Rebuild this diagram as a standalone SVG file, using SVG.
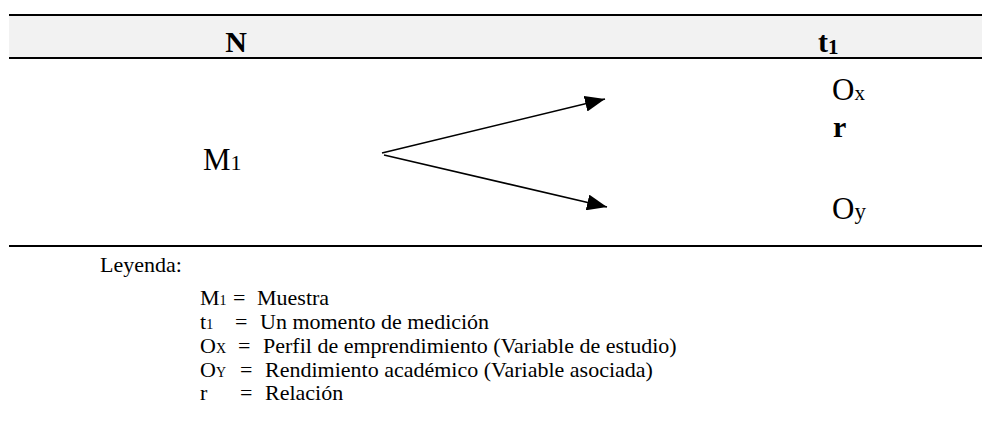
<svg xmlns="http://www.w3.org/2000/svg" width="982" height="426" viewBox="0 0 982 426">
<style>
.t{font-family:"Liberation Serif","Times New Roman",serif;fill:#000}
.big{font-size:31px}
.b{font-weight:bold}
.leg{font-size:22px}
.sub{font-size:14px}
.rule{stroke:#000;stroke-width:2.2}
.conn{stroke:#000;stroke-width:1.6;fill:none}
</style>
<defs>
<marker id="ah" viewBox="0 0 20 16" refX="20" refY="8" markerWidth="20" markerHeight="16" markerUnits="userSpaceOnUse" orient="auto">
<path d="M0,0 L20,8 L0,16 Z" fill="#000"/>
</marker>
</defs>
<rect x="9" y="15" width="973" height="43" fill="#f2f2f2"/>
<line class="rule" x1="9" y1="15" x2="982" y2="15"/>
<line class="rule" x1="9" y1="58" x2="982" y2="58"/>
<line class="rule" x1="9" y1="246" x2="982" y2="246"/>
<g id="header-N"><text class="t b" font-size="30" x="236" y="52" text-anchor="middle">N</text></g>
<g id="header-t1"><text class="t b" font-size="30" x="818" y="52">t<tspan font-size="21" dy="2">1</tspan></text></g>
<g id="node-M1"><text class="t big" x="203" y="170">M<tspan font-size="22">1</tspan></text></g>
<g id="node-Ox"><text class="t big" x="832" y="100">O<tspan font-size="21">x</tspan></text></g>
<g id="node-r"><text class="t b" font-size="30" x="833" y="137">r</text></g>
<g id="node-Oy"><text class="t big" x="832" y="219">O<tspan font-size="23">y</tspan></text></g>
<g id="connectors">
<line class="conn" x1="382" y1="153" x2="605" y2="99" marker-end="url(#ah)"/>
<line class="conn" x1="384" y1="155" x2="607" y2="207" marker-end="url(#ah)"/>
</g>
<g id="legend">
<text class="t leg" x="100" y="272">Leyenda:</text>
<text class="t leg" x="200" y="305">M<tspan class="sub">1</tspan></text>
<text class="t leg" x="233" y="305">=</text>
<text class="t leg" x="257" y="305">Muestra</text>
<text class="t leg" x="200" y="329">t<tspan class="sub">1</tspan></text>
<text class="t leg" x="235" y="329">=</text>
<text class="t leg" x="260" y="329">Un momento de medición</text>
<text class="t leg" x="200" y="353">O<tspan class="sub">X</tspan></text>
<text class="t leg" x="238" y="353">=</text>
<text class="t leg" x="263" y="353">Perfil de emprendimiento (Variable de estudio)</text>
<text class="t leg" x="200" y="377">O<tspan class="sub">Y</tspan></text>
<text class="t leg" x="240" y="377">=</text>
<text class="t leg" x="265" y="377">Rendimiento académico (Variable asociada)</text>
<text class="t leg" x="200" y="400">r</text>
<text class="t leg" x="240" y="400">=</text>
<text class="t leg" x="265" y="400">Relación</text>
</g>
</svg>
